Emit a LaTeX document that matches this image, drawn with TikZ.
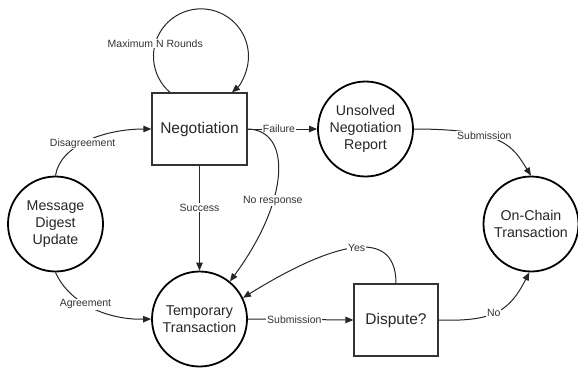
\documentclass[tikz,border=0pt]{standalone}
\usepackage{fontspec}
\setmainfont{Liberation Sans}
\usetikzlibrary{arrows.meta}
\begin{document}
\begin{tikzpicture}[x=1pt,y=-1pt,
  circ/.style={circle,draw,line width=1.8pt,minimum size=95pt,inner sep=0pt,align=center,
    text=black!85,font=\fontsize{14.2}{16.8}\selectfont},
  boxnode/.style={rectangle,draw,draw=black!80,line width=1.3pt,minimum width=95pt,minimum height=72pt,
    align=center,text=black!85,font=\fontsize{15.5}{18}\selectfont},
  conn/.style={line width=1pt,draw=black!85,-{Triangle[length=8pt,width=6.5pt]}},
  lbl/.style={fill=white,inner sep=0.8pt,text=black!80,font=\fontsize{10.5}{12}\selectfont}
]
\useasboundingbox (0,0) rectangle (578,368);

\node[boxnode] (neg) at (199.5,129) {Negotiation};
\node[circ] (msg) at (55.5,224) {Message\\Digest\\Update};
\node[circ] (temp) at (199.5,319) {Temporary\\Transaction};
\node[circ] (uns) at (365.5,129) {Unsolved\\Negotiation\\Report};
\node[circ] (onc) at (531,224) {On-Chain\\Transaction};
\node[boxnode,minimum width=84pt] (disp) at (396,320) {Dispute?};

\coordinate (loopA) at ([xshift=-29.5pt]neg.north);

% self loop
\draw[conn] (loopA) arc[start angle=-229.3, end angle=49.3, radius=47.5]
  node[lbl,pos=0.234] {Maximum N Rounds};

% Disagreement
\draw[conn] (msg.north) .. controls (60,145) and (105,129) .. (neg.west)
  node[lbl,pos=0.45] {Disagreement};

% Agreement
\draw[conn] (msg.south) .. controls (70,305) and (110,320) .. (temp.west)
  node[lbl,pos=0.42] {Agreement};

% Success
\draw[conn] (neg.south) -- (temp.north) node[lbl,pos=0.4] {Success};

% Failure
\draw[conn] (neg.east) -- (uns.west) node[lbl,pos=0.45] {Failure};

% No response
\draw[conn] (neg.east) .. controls (292,130) and (290,200) .. (temp.51)
  node[lbl,pos=0.64] {No response};

% Submission top
\draw[conn] (uns.east) .. controls (505,129) and (513,147) .. (onc.north)
  node[lbl,pos=0.36] {Submission};

% Submission bottom
\draw[conn] (temp.east) -- (disp.west) node[lbl,pos=0.44] {Submission};

% Yes
\draw[conn] (disp.north) .. controls (396,220) and (320,250) .. (temp.26)
  node[lbl,pos=0.45] {Yes};

% No
\draw[conn] (disp.east) .. controls (495,322) and (510,310) .. (onc.-92)
  node[lbl,pos=0.45] {No};
\end{tikzpicture}
\end{document}
